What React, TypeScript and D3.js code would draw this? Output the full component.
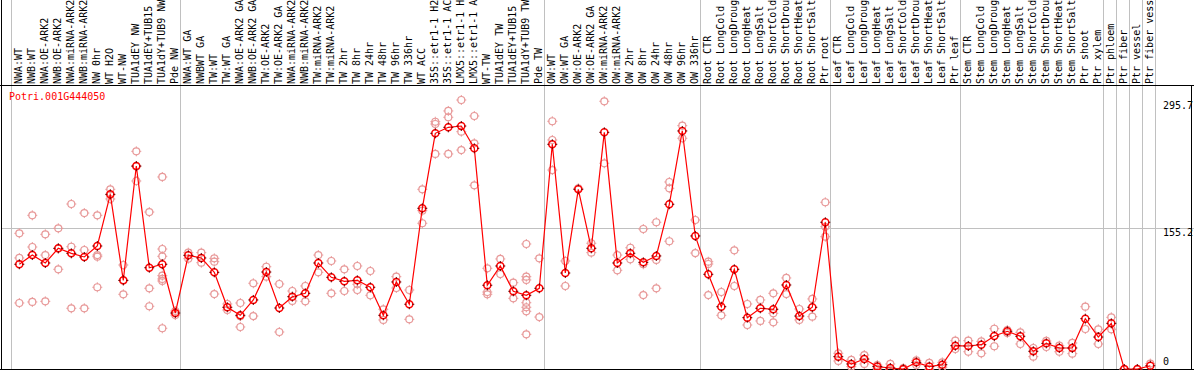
import React, { useEffect, useRef } from 'react';
import * as d3 from 'd3';

const geneId = 'Potri.001G444050';

const samples = [
  'NWA:WT', 'NWB:WT', 'NWA:OE-ARK2', 'NWB:OE-ARK2', 'NWA:miRNA-ARK2', 'NWB:miRNA-ARK2', 'NW 0hr', 'WT H2O', 'WT-NW',
  'TUA1dEY NW', 'TUA1dEY+TUB15 NW', 'TUA1dY+TUB9 NW', 'Pde NW',
  'NWA:WT GA', 'NWBWT GA', 'TW:WT', 'TW:WT GA', 'NWA:OE-ARK2 GA', 'NWB:OE-ARK2 GA', 'TW:OE-ARK2', 'TW:OE-ARK2 GA',
  'NWA:miRNA-ARK2 GA', 'NWB:miRNA-ARK2 GA', 'TW:miRNA-ARK2', 'TW:miRNA-ARK2', 'TW 2hr', 'TW 8hr', 'TW 24hr', 'TW 48hr',
  'TW 96hr', 'TW 336hr', 'WT ACC', '35S::etr1-1 H2O', '35S::etr1-1 ACC', 'LMX5::etr1-1 H2O', 'LMX5::etr1-1 ACC',
  'WT-TW', 'TUA1dEY TW', 'TUA1dEY+TUB15 TW', 'TUA1dY+TUB9 TW', 'Pde TW',
  'OW:WT', 'OW:WT GA', 'OW:OE-ARK2', 'OW:OE-ARK2 GA', 'OW:miRNA-ARK2', 'OW:miRNA-ARK2', 'OW 2hr', 'OW 8hr', 'OW 24hr',
  'OW 48hr', 'OW 96hr', 'OW 336hr',
  'Root CTR', 'Root LongCold', 'Root LongDrought', 'Root LongHeat', 'Root LongSalt', 'Root ShortCold', 'Root ShortDrought',
  'Root ShortHeat', 'Root ShortSalt', 'Ptr root',
  'Leaf CTR', 'Leaf LongCold', 'Leaf LongDrought', 'Leaf LongHeat', 'Leaf LongSalt', 'Leaf ShortCold', 'Leaf ShortDrought',
  'Leaf ShortHeat', 'Leaf ShortSalt', 'Ptr leaf',
  'Stem CTR', 'Stem LongCold', 'Stem LongDrought', 'Stem LongHeat', 'Stem LongSalt', 'Stem ShortCold', 'Stem ShortDrought',
  'Stem ShortHeat', 'Stem ShortSalt', 'Ptr shoot', 'Ptr xylem',
  'Ptr phloem', 'Ptr fiber', 'Ptr vessel', 'Ptr fiber vessel',
];

// index where each sample group starts (grey separators)
const groupStarts = [0, 13, 41, 53, 63, 73, 84, 85, 86, 87, 88];

const means = [
  115.8, 125.9, 117.2, 133.3, 127.8, 123.8, 135.8, 192.4, 98.2, 223.4, 112, 115.8, 62.4,
  125.6, 122.7, 107, 68.7, 59.9, 76.7, 107.3, 67.9, 80.3, 84, 117.2, 101.5, 97.1, 98.2, 90.6, 59.9,
  96.4, 72, 177.1, 259.2, 265.8, 267.2, 242.8, 92.8, 113.9, 86.2, 81.8, 89.5,
  247.2, 106.2, 197.9, 133.3, 260.3, 117.2, 127.8, 117.9, 124.9, 181.5, 261.8, 146.8,
  104.8, 69.3, 110.3, 57.3, 67.6, 66.5, 93.1, 59.1, 68.7, 161.8,
  14.6, 6.6, 12, 3.7, 2.2, 1, 8.4, 3.7, 5.8, 26.6,
  26.3, 27.7, 37.2, 42.4, 36.9, 20.5, 29.2, 24.1, 24.1, 56.2, 36.1,
  51.1, 1.1, 1, 4.7,
];

const replicates = [
  [149.7, 122.7, 73.4], [169.4, 134.7, 74.5], [148.6, 125.9, 75.2], [155.2, 133, 110.3], [181.8, 135, 67.6],
  [171.9, 131.4, 67.6], [169.4, 125.9, 124.1, 90.6], [197.9, 192, 187.3], [115, 98, 82.9], [239.5, 223, 207],
  [173, 89.5, 69.8], [211.4, 132.5, 124.5, 103.3, 99.7, 97.5, 45.7], [64.6, 60.2],
  [128.5, 121.9], [128.5, 117.5], [122.3, 118.6, 83.2], [72.3, 65.7], [73.4, 59, 47.1], [95, 59.1],
  [113.1, 102.2], [94.2, 41.6], [86.5, 75.6], [92, 75.2], [125.9, 107], [119.4, 84], [110.3, 86.5],
  [113.9, 93.9, 87.6], [108.4, 81.8], [66.5, 54.8], [102.2, 89.8], [87.6, 55.5], [197.9, 174.5, 160.7],
  [271.9, 269.4, 236.6], [283.7, 276.8, 236.6], [295.7, 261, 240.9], [278.2, 248.3, 202.3],
  [111.4, 85.4, 82.9], [121.6, 105.1], [95.6, 78.5], [138, 102.2, 98.6, 73.7, 68.7, 64.3, 39.1], [122.3, 58],
  [272.4, 251.9, 219], [119.4, 92], [199], [138.8, 128.5], [294.3, 226.4], [125.9, 109.2], [133.9, 121.2],
  [154.4, 115.8, 82.1], [161.8, 120.5, 89.5], [205.9, 199, 141], [267.6, 253.8], [164.3, 128.1],
  [118.6, 116.1, 82.1], [85.4, 59.9], [131.1, 92], [72.3, 49.3], [76.7, 53.7], [84, 62.1, 52.2],
  [100.8, 83.2], [66.8, 54.8], [77.8, 58.4], [183.7, 156.9, 146],
  [18.3, 9.9], [11, 3.7], [16.4, 6.6], [5.5, 1.5], [6.6, 0.5], [2, 0.3], [10.5, 5.5], [7.7, 1], [8.4, 3], [32.1, 23],
  [32.1, 20], [31.4, 18.3], [45.2, 26], [43.8, 40.5], [41.3, 28.5], [24.1, 14.6], [31.8, 25.2], [26.6, 20],
  [29.6, 17.9], [69.3, 44.9], [44.6, 28.5],
  [57.7, 44.6], [0.5], [0.5], [7],
];

const yTicks = [295.7, 155.2, 0];

const markTicks = 'M0,-5V-3M0,3V5M-5,0H-3M3,0H5';

const ExpressionPlot = () => {
  const ref = useRef(null);

  useEffect(() => {
    const svg = d3.select(ref.current);
    const width = 1194;
    const height = 370;
    const headerY = 85.5;
    const font = 'DejaVu Sans Mono, monospace';

    svg.attr('width', width).attr('height', height);

    const x = d3.scaleBand()
      .domain(d3.range(samples.length))
      .range([11, 11 + samples.length * 13]);
    const px = (i) => x(i) + 8.3;

    const y = d3.scaleLinear().domain([0, 295.7]).range([370, 100]);

    // grid
    svg.append('line')
      .attr('x1', 1).attr('x2', width)
      .attr('y1', Math.round(y(155.2)) + 0.5).attr('y2', Math.round(y(155.2)) + 0.5)
      .attr('stroke', '#c0c0c0');

    svg.selectAll('line.sep')
      .data(groupStarts)
      .join('line')
      .attr('class', 'sep')
      .attr('x1', (d) => 11 + d * 13 + 0.5)
      .attr('x2', (d) => 11 + d * 13 + 0.5)
      .attr('y1', 0).attr('y2', height)
      .attr('stroke', '#c0c0c0');

    // frame
    svg.append('line').attr('x1', 0).attr('x2', width).attr('y1', headerY).attr('y2', headerY).attr('stroke', '#000');
    svg.append('line').attr('x1', 0).attr('x2', width).attr('y1', 369.5).attr('y2', 369.5).attr('stroke', '#000');
    svg.append('line').attr('x1', 1.5).attr('x2', 1.5).attr('y1', 0).attr('y2', height).attr('stroke', '#000');
    svg.append('line').attr('x1', 1191.5).attr('x2', 1191.5).attr('y1', headerY).attr('y2', height).attr('stroke', '#000');

    // sample labels
    svg.selectAll('text.sample')
      .data(samples)
      .join('text')
      .attr('class', 'sample')
      .attr('transform', (d, i) => `translate(${px(i) + 2.4},84) rotate(-90)`)
      .attr('font-family', font)
      .attr('font-size', 10)
      .attr('fill', '#000')
      .text((d) => d);

    // y labels
    const tickDy = { 295.7: 9, 155.2: 8, 0: -5 };
    svg.selectAll('text.ytick')
      .data(yTicks)
      .join('text')
      .attr('class', 'ytick')
      .attr('x', 1163)
      .attr('y', (d) => y(d) + tickDy[d])
      .attr('font-family', font)
      .attr('font-size', 10)
      .attr('fill', '#000')
      .text((d) => String(d));

    svg.append('text')
      .attr('x', 9).attr('y', 100)
      .attr('font-family', font)
      .attr('font-size', 10)
      .attr('fill', '#ff0000')
      .text(geneId);

    // replicates
    const reps = replicates.flatMap((vals, i) => vals.map((v) => ({ i, v })));
    const repG = svg.selectAll('g.rep')
      .data(reps)
      .join('g')
      .attr('class', 'rep')
      .attr('transform', (d) => `translate(${px(d.i)},${y(d.v)})`);
    repG.append('circle').attr('r', 3.5).attr('fill', 'none').attr('stroke', '#e89a9a').attr('stroke-width', 1.2);
    repG.append('path').attr('d', markTicks).attr('stroke', '#e89a9a').attr('stroke-width', 1);

    // mean line
    const line = d3.line().x((d, i) => px(i)).y((d) => y(d));
    svg.append('path')
      .datum(means)
      .attr('d', line)
      .attr('fill', 'none')
      .attr('stroke', '#ff0000')
      .attr('stroke-width', 1.2);

    const meanG = svg.selectAll('g.mean')
      .data(means)
      .join('g')
      .attr('class', 'mean')
      .attr('transform', (d, i) => `translate(${px(i)},${y(d)})`);
    meanG.append('circle').attr('r', 3.5).attr('fill', 'none').attr('stroke', '#ff0000').attr('stroke-width', 1.5);
    meanG.append('path').attr('d', markTicks).attr('stroke', '#600000').attr('stroke-width', 1);

    return () => {
      svg.selectAll('*').remove();
    };
  }, []);

  return <svg ref={ref} style={{ position: 'absolute', left: 0, top: 0, display: 'block' }}></svg>;
};

export default function App() {
  return <ExpressionPlot />;
}
